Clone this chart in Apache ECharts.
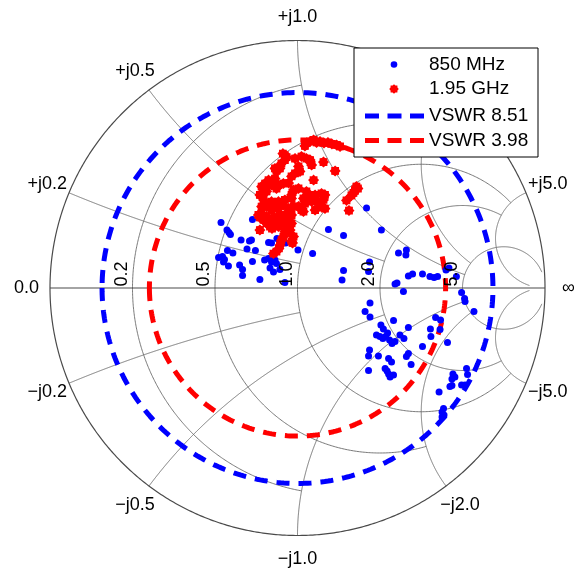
<!DOCTYPE html>
<html>
<head>
<meta charset="utf-8">
<script src="https://cdn.jsdelivr.net/npm/echarts@6/dist/echarts.min.js"></script>
<style>
html, body { margin: 0; padding: 0; background: #ffffff; }
#chart { width: 574px; height: 573px; }
</style>
</head>
<body>
<div id="chart"></div>
<script>
// Measured reflection coefficients [real, imaginary] at 850 MHz
const gamma850 = [
  [-0.309,0.265],[-0.285,0.234],[-0.277,0.224],[-0.271,0.216],[-0.182,0.277],[-0.075,0.253],
  [-0.228,0.194],[-0.194,0.190],[-0.186,0.194],[-0.204,0.158],[-0.170,0.152],[-0.117,0.184],
  [-0.105,0.182],[-0.083,0.200],[-0.048,0.182],[0.002,0.154],[0.061,0.139],[0.125,0.236],
  [0.186,0.212],[0.279,0.323],[-0.283,0.152],[-0.261,0.141],[-0.319,0.123],[-0.303,0.127],
  [-0.295,0.115],[-0.299,0.105],[-0.279,0.089],[-0.234,0.093],[-0.222,0.075],[-0.222,0.051],
  [-0.182,0.107],[-0.152,0.034],[-0.133,0.113],[-0.117,0.119],[-0.105,0.105],[-0.091,0.113],
  [-0.085,0.099],[-0.111,0.081],[-0.097,0.065],[-0.071,0.075],[-0.051,0.022],[0.186,0.071],
  [0.180,0.032],[0.291,0.105],[0.287,0.067],[0.339,0.234],[0.408,0.141],[0.440,0.154],
  [0.438,0.133],[0.394,0.016],[0.402,0.020],[0.428,-0.014],[0.448,0.048],[0.465,0.057],
  [0.505,0.057],[0.535,0.046],[0.552,0.042],[0.566,0.046],[0.600,0.073],[0.612,0.081],
  [0.642,0.046],[0.663,-0.018],[0.675,-0.042],[0.677,-0.055],[0.713,-0.095],[0.293,-0.061],
  [0.273,-0.095],[0.293,-0.117],[0.388,-0.131],[0.337,-0.149],[0.347,-0.166],[0.319,-0.190],
  [0.333,-0.196],[0.345,-0.204],[0.356,-0.196],[0.364,-0.182],[0.372,-0.210],[0.382,-0.224],
  [0.394,-0.216],[0.414,-0.190],[0.430,-0.204],[0.448,-0.160],[0.291,-0.251],[0.287,-0.275],
  [0.327,-0.275],[0.368,-0.285],[0.380,-0.299],[0.287,-0.333],[0.354,-0.325],[0.362,-0.335],
  [0.368,-0.347],[0.374,-0.360],[0.388,-0.352],[0.440,-0.277],[0.448,-0.265],[0.459,-0.309],
  [0.505,-0.236],[0.537,-0.166],[0.539,-0.196],[0.576,-0.168],[0.558,-0.119],[0.578,-0.129],
  [0.606,-0.220],[0.683,-0.325],[0.628,-0.347],[0.636,-0.360],[0.624,-0.368],[0.663,-0.392],
  [0.677,-0.392],[0.616,-0.398],[0.624,-0.394],[0.572,-0.420],[0.590,-0.487],[0.584,-0.501],
  [0.592,-0.513],[0.584,-0.521],[0.687,-0.349]
];

// Measured reflection coefficients [real, imaginary] at 1.95 GHz
const gamma1950 = [
  [0.030,0.574],[0.036,0.586],[0.051,0.592],[0.065,0.598],[0.077,0.588],[0.091,0.592],
  [0.107,0.586],[0.123,0.588],[0.139,0.582],[0.158,0.578],[0.172,0.572],[-0.051,0.537],
  [-0.044,0.529],[-0.059,0.543],[-0.051,0.517],[-0.065,0.503],[-0.077,0.485],[-0.091,0.483],
  [-0.071,0.483],[-0.085,0.473],[-0.010,0.523],[0.016,0.531],[0.036,0.523],[0.051,0.517],
  [0.057,0.497],[0.105,0.509],[0.152,0.473],[0.004,0.491],[0.010,0.471],[-0.010,0.463],
  [-0.024,0.451],[0.065,0.436],[-0.036,0.424],[-0.057,0.422],[-0.077,0.416],[-0.085,0.402],
  [-0.105,0.416],[-0.117,0.436],[-0.131,0.422],[-0.137,0.402],[-0.125,0.390],[-0.091,0.442],
  [-0.105,0.430],[-0.145,0.410],[-0.137,0.388],[-0.152,0.376],[-0.137,0.356],[-0.016,0.396],
  [-0.024,0.376],[-0.024,0.362],[0.004,0.402],[0.036,0.390],[0.044,0.376],[0.036,0.362],
  [0.024,0.362],[0.071,0.376],[0.097,0.382],[0.111,0.376],[0.105,0.356],[0.085,0.349],
  [0.091,0.329],[0.111,0.321],[0.071,0.315],[0.238,0.410],[0.244,0.402],[0.226,0.384],
  [0.218,0.374],[0.232,0.392],[0.198,0.354],[0.208,0.313],[-0.051,0.356],[-0.057,0.335],
  [-0.077,0.349],[-0.105,0.349],[-0.111,0.335],[-0.105,0.315],[-0.077,0.321],[-0.036,0.321],
  [-0.016,0.329],[0.004,0.329],[0.016,0.315],[0.024,0.309],[0.030,0.341],[0.057,0.349],
  [-0.145,0.329],[-0.125,0.329],[-0.085,0.341],[-0.145,0.301],[-0.152,0.285],[-0.137,0.275],
  [-0.125,0.289],[-0.111,0.275],[-0.097,0.281],[-0.085,0.285],[-0.071,0.295],[-0.065,0.275],
  [-0.051,0.295],[-0.036,0.301],[-0.024,0.295],[-0.158,0.295],[-0.091,0.269],[-0.071,0.267],
  [-0.051,0.281],[-0.036,0.275],[-0.024,0.261],[-0.111,0.248],[-0.103,0.240],[-0.077,0.248],
  [-0.085,0.255],[-0.051,0.261],[-0.044,0.240],[-0.036,0.228],[-0.051,0.228],[-0.030,0.234],
  [-0.152,0.234],[-0.125,0.261],[-0.057,0.208],[-0.065,0.192],[-0.071,0.172],[-0.075,0.160],
  [-0.085,0.147],[-0.097,0.139],[-0.024,0.188],[-0.020,0.182],[-0.016,0.208]
];

// Smith chart grid: circle values and the value where each line stops
const gridValues = [0.2, 0.5, 1.0, 2.0, 5.0];
const gridEnds   = [1.0, 2.0, 5.0, 5.0, 30.0];
const resistanceLabels = ['0.2', '0.5', '1.0', '2.0', '5.0'];
const reactanceLabels  = ['0.2', '0.5', '1.0', '2.0', '5.0'];

// Constant-VSWR circles
const vswrValues = [8.51, 3.98];
const seriesNames = ['850 MHz', '1.95 GHz', 'VSWR 8.51', 'VSWR 3.98'];

const BLUE = '#0000ff', RED = '#ff0000';
const FONT = '"Liberation Sans", Arial, Helvetica, sans-serif';

// normalized impedance r + jx -> reflection coefficient
function zToGamma(r, x) {
  const den = (r + 1) * (r + 1) + x * x;
  return [(r * r - 1 + x * x) / den, (2 * x) / den];
}
function arcPoints(cx, cy, rad, a0, a1, n) {
  const pts = [];
  for (let i = 0; i <= n; i++) {
    const a = a0 + (a1 - a0) * i / n;
    pts.push([cx + rad * Math.cos(a), cy + rad * Math.sin(a)]);
  }
  return pts;
}
function resistanceCircle(r, xEnd) {
  const c = r / (1 + r), rho = 1 / (1 + r);
  const g = zToGamma(r, xEnd);
  const phi = Math.atan2(g[1], g[0] - c);
  return arcPoints(c, 0, rho, phi, 2 * Math.PI - phi, 400);
}
function reactanceArc(x, rEnd) {
  const s = Math.sign(x), ax = Math.abs(x);
  const cy = 1 / ax;
  const g0 = zToGamma(0, ax), g1 = zToGamma(rEnd, ax);
  let a0 = Math.atan2(g0[1] - cy, g0[0] - 1); if (a0 < 0) a0 += 2 * Math.PI;
  let a1 = Math.atan2(g1[1] - cy, g1[0] - 1); if (a1 < 0) a1 += 2 * Math.PI;
  return arcPoints(1, cy, 1 / ax, a0, a1, 400).map(p => [p[0], s * p[1]]);
}

// grid polylines
const gridLines = [];
gridValues.forEach((v, i) => {
  gridLines.push({ coords: resistanceCircle(v, gridEnds[i]) });
  gridLines.push({ coords: reactanceArc(v, gridEnds[i]) });
  gridLines.push({ coords: reactanceArc(-v, gridEnds[i]) });
});
const rimLines = [
  { coords: arcPoints(0, 0, 1, 0, 2 * Math.PI, 720) },
  { coords: [[-1, 0], [1, 0]] }
];

// bold asterisk marker outline (unit radius 10)
function asteriskPoints() {
  const pts = [];
  for (let k = 0; k < 16; k++) {
    const a = k * Math.PI / 8;
    const rr = (k % 2 === 0) ? 10 : 7.8;
    pts.push([rr * Math.cos(a), rr * Math.sin(a)]);
  }
  return pts;
}
const STAR_PTS = asteriskPoints();
const STAR = 'path://' + STAR_PTS.map((p, k) => (k === 0 ? 'M' : 'L') + p[0].toFixed(3) + ' ' + p[1].toFixed(3)).join(' ') + ' Z';

const vswrSeries = vswrValues.map((s, i) => {
  const rho = (s - 1) / (s + 1);
  return {
    name: seriesNames[2 + i],
    type: 'line',
    data: arcPoints(0, 0, rho, Math.PI, 3 * Math.PI, 720),
    showSymbol: false,
    symbol: 'none',
    lineStyle: { color: i === 0 ? BLUE : RED, width: 5, type: [13, 9], cap: 'butt', opacity: 1 },
    z: 3,
    silent: true
  };
});

const chart = echarts.init(document.getElementById('chart'), null, { renderer: 'canvas' });
chart.setOption({
  animation: false,
  backgroundColor: '#ffffff',
  grid: { left: 50, top: 40.5, width: 495, height: 495 },
  xAxis: { type: 'value', min: -1, max: 1, show: false },
  yAxis: { type: 'value', min: -1, max: 1, show: false },
  series: [
    {
      type: 'lines', coordinateSystem: 'cartesian2d', polyline: true, silent: true,
      data: gridLines, lineStyle: { color: '#6a6a6a', width: 0.9, opacity: 1 }, z: 1
    },
    {
      type: 'lines', coordinateSystem: 'cartesian2d', polyline: true, silent: true,
      data: rimLines, lineStyle: { color: '#4a4a4a', width: 1.2, opacity: 1 }, z: 1
    },
    ...vswrSeries,
    {
      name: seriesNames[0], type: 'scatter', data: gamma850,
      symbol: 'circle', symbolSize: 7, itemStyle: { color: BLUE, opacity: 1 }, z: 4
    },
    {
      name: seriesNames[1], type: 'scatter', data: gamma1950,
      symbol: STAR, symbolSize: 11, itemStyle: { color: RED, opacity: 1 }, z: 4
    }
  ]
});

// text labels and legend placed through the chart's own coordinate conversion
const px = p => chart.convertToPixel({ gridIndex: 0 }, p);
const graphics = [];
const LABEL_R = 1.095;

function outerLabel(g, text) {
  const p = px([g[0] * LABEL_R, g[1] * LABEL_R]);
  graphics.push({
    type: 'text', x: p[0], y: p[1], z: 50,
    style: { text: text, font: '18px ' + FONT, fill: '#000', align: 'center', verticalAlign: 'middle' }
  });
}
reactanceLabels.forEach((t, i) => {
  const g = zToGamma(0, gridValues[i]);
  outerLabel(g, '+j' + t);
  outerLabel([g[0], -g[1]], '\u2212j' + t);
});
outerLabel([-1, 0], '0.0');
outerLabel([1, 0], '\u221e');

resistanceLabels.forEach((t, i) => {
  const g = zToGamma(gridValues[i], 0);
  const p = px(g);
  graphics.push({
    type: 'text', x: p[0] - 10.5, y: p[1] - 1.5, rotation: Math.PI / 2, z: 50,
    style: { text: t, font: '18px ' + FONT, fill: '#000', align: 'left', verticalAlign: 'middle' }
  });
});

// legend box
const LX = 354, LY = 48, LW = 184, LH = 109;
graphics.push({
  type: 'rect', z: 100, shape: { x: LX, y: LY, width: LW, height: LH },
  style: { fill: '#ffffff', stroke: '#000000', lineWidth: 1 }
});
const rowsY = [64.5, 89, 116, 140.5];
graphics.push({ type: 'circle', z: 101, shape: { cx: 394, cy: rowsY[0], r: 3.3 }, style: { fill: BLUE } });
graphics.push({
  type: 'polygon', z: 101,
  shape: { points: STAR_PTS.map(p => [394 + p[0] * 0.48, rowsY[1] + p[1] * 0.48]) },
  style: { fill: RED }
});
[BLUE, RED].forEach((c, i) => {
  graphics.push({
    type: 'line', z: 101, shape: { x1: 365, y1: rowsY[2 + i], x2: 424, y2: rowsY[2 + i] },
    style: { stroke: c, lineWidth: 5, lineDash: [14, 8.5], lineCap: 'butt' }
  });
});
seriesNames.forEach((n, i) => {
  graphics.push({
    type: 'text', z: 101, x: 429, y: rowsY[i],
    style: { text: n, font: '19px ' + FONT, fill: '#000', align: 'left', verticalAlign: 'middle' }
  });
});

chart.setOption({ graphic: graphics });
</script>
</body>
</html>
